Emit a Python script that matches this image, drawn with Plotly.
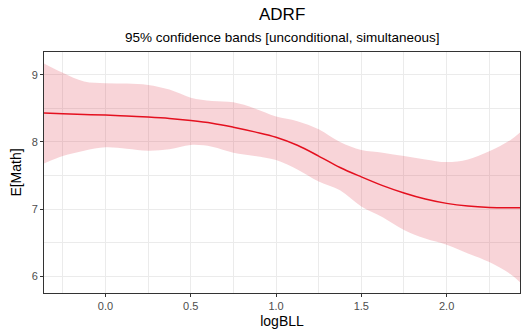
import plotly.graph_objects as go

log_bll = [-0.36, -0.25, -0.125, 0.0, 0.125, 0.25, 0.375, 0.5, 0.625, 0.75, 0.875,
           1.0, 1.125, 1.25, 1.375, 1.5, 1.625, 1.75, 1.875, 2.0, 2.125, 2.25, 2.375, 2.43]
estimate = [8.43, 8.42, 8.41, 8.40, 8.385, 8.37, 8.35, 8.32, 8.28, 8.22, 8.15,
            8.07, 7.95, 7.79, 7.62, 7.48, 7.35, 7.24, 7.15, 7.085, 7.045, 7.025, 7.02, 7.02]
upper = [9.17, 9.03, 8.90, 8.875, 8.87, 8.85, 8.78, 8.66, 8.61, 8.59, 8.50,
         8.38, 8.31, 8.19, 8.00, 7.88, 7.84, 7.79, 7.74, 7.70, 7.74, 7.86, 8.03, 8.14]
lower = [7.68, 7.79, 7.87, 7.92, 7.90, 7.87, 7.89, 7.955, 7.93, 7.84, 7.79,
         7.73, 7.59, 7.41, 7.28, 7.04, 6.88, 6.69, 6.56, 6.47, 6.34, 6.21, 6.03, 5.91]

x_ticks = [0.0, 0.5, 1.0, 1.5, 2.0]
x_tick_labels = ["0.0", "0.5", "1.0", "1.5", "2.0"]
y_ticks = [6, 7, 8, 9]
y_tick_labels = ["6", "7", "8", "9"]

fig = go.Figure()
fig.add_trace(go.Scatter(x=log_bll, y=upper, mode="lines", line=dict(width=0, shape="spline"),
                         hoverinfo="skip", showlegend=False))
fig.add_trace(go.Scatter(x=log_bll, y=lower, mode="lines", line=dict(width=0, shape="spline"),
                         fill="tonexty", fillcolor="rgba(220,40,60,0.2)",
                         hoverinfo="skip", showlegend=False))
fig.add_trace(go.Scatter(x=log_bll, y=estimate, mode="lines",
                         line=dict(color="#E4101F", width=1.5, shape="spline"), showlegend=False))

axis_common = dict(
    showline=True, mirror=True, linecolor="#333333", linewidth=1,
    showgrid=True, gridcolor="#EBEBEB", gridwidth=1,
    ticks="outside", ticklen=3, tickcolor="#333333",
    tickfont=dict(family="Liberation Sans, Arial", size=11, color="#4D4D4D"),
    zeroline=False,
)

fig.update_layout(
    width=528, height=336,
    margin=dict(l=44, r=8, t=52, b=43),
    paper_bgcolor="white", plot_bgcolor="white",
    font=dict(family="Liberation Sans, Arial", color="black"),
)
fig.add_annotation(text="ADRF", xref="paper", yref="paper", x=0.5, y=1, yshift=38,
                   showarrow=False, font=dict(size=17, color="black"), yanchor="middle")
fig.add_annotation(text="95% confidence bands [unconditional, simultaneous]", xref="paper",
                   yref="paper", x=0.5, y=1, yshift=15, showarrow=False,
                   font=dict(size=13.5, color="black"), yanchor="middle")

fig.update_xaxes(range=[-0.36, 2.43], tickvals=x_ticks, ticktext=x_tick_labels,
                 title=dict(text="logBLL", font=dict(size=14, color="black"), standoff=4),
                 minor=dict(showgrid=True, dtick=0.25, tick0=0.25, gridcolor="#EBEBEB", gridwidth=0.5),
                 **axis_common)
fig.update_yaxes(range=[5.75, 9.34], tickvals=y_ticks, ticktext=y_tick_labels,
                 title=dict(text="E[Math]", font=dict(size=14, color="black"), standoff=6),
                 minor=dict(showgrid=True, dtick=0.5, tick0=5.5, gridcolor="#EBEBEB", gridwidth=0.5),
                 **axis_common)

fig.write_html("out.html")
